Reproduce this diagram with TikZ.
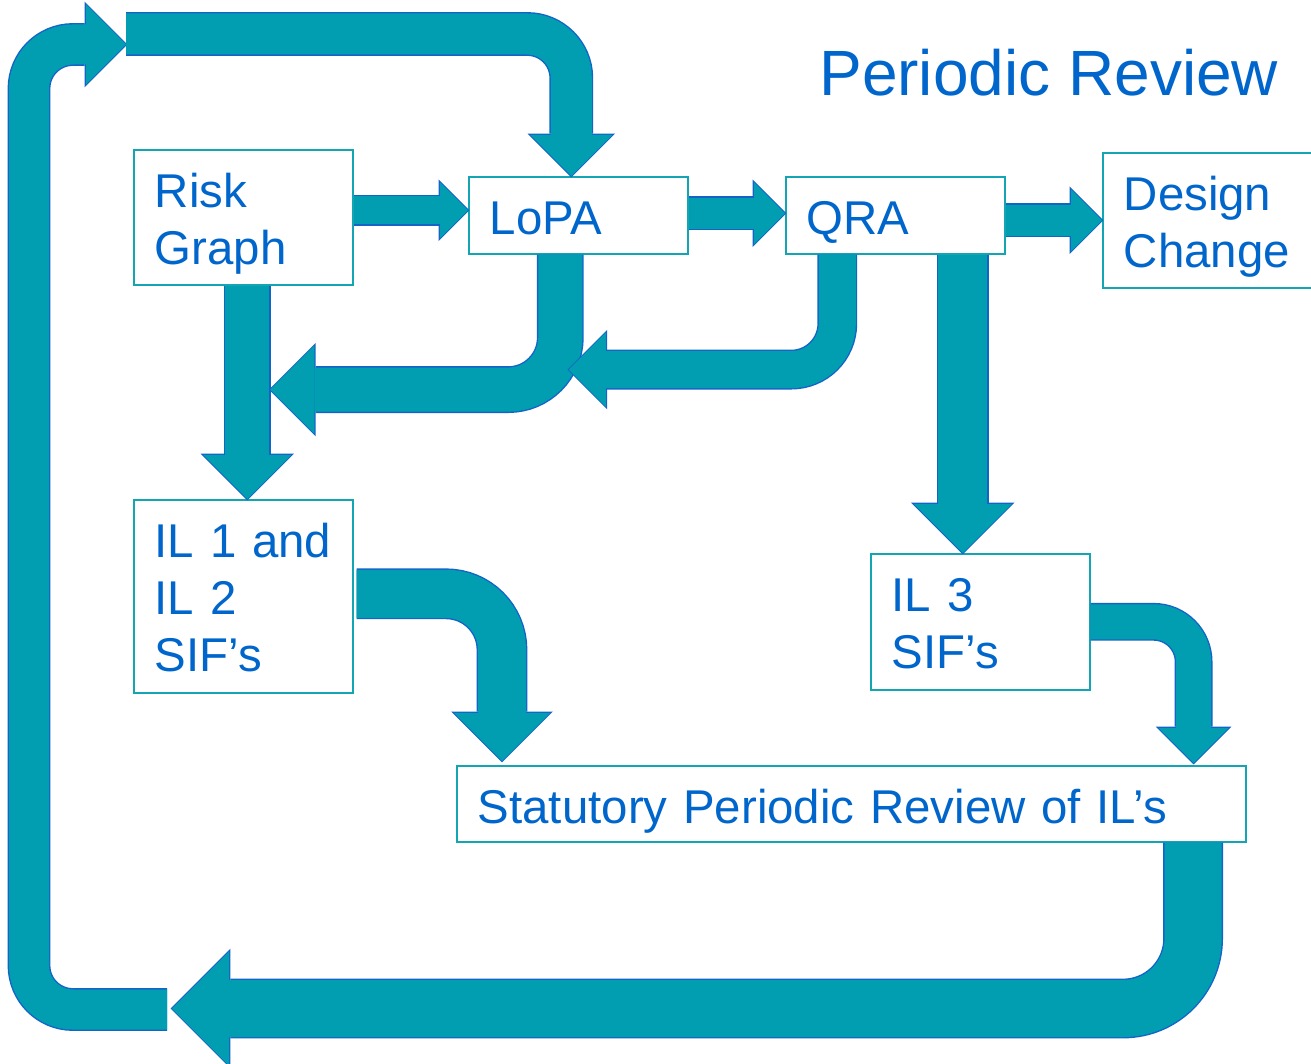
\documentclass[tikz,border=0pt]{standalone}
\usepackage{fontspec}
\setmainfont{Liberation Sans}
\usetikzlibrary{arrows.meta,calc}
\definecolor{ink}{RGB}{0,102,204}
\definecolor{flow}{RGB}{0,158,176}
\definecolor{rim}{RGB}{20,100,200}
\definecolor{boxline}{RGB}{20,165,180}

\begin{document}
\begin{tikzpicture}[x=0.5pt,y=-0.5pt,
  box/.style={draw=boxline,line width=0.8pt,fill=white,anchor=north west,align=left,text=ink,
    inner xsep=10.5pt,inner ysep=0pt,text height=28.75pt,font=\fontsize{23.7}{28.5}\selectfont},
  fat/.style={draw=flow,line width=#1,-{Triangle[length=0pt 1 0,width=0pt 2 0,line width=0pt 0 0]},
    preaction={draw=rim,line width=#1+1.4pt,shorten >=-0.7pt}}]
\useasboundingbox (0,0) rectangle (1311,1064);
\node[box,minimum width=109.5pt,text depth=38.75pt,text width=88.5pt] (risk) at (133,149) {Risk\\Graph};
\node[box,minimum width=109.5pt,text depth=9.75pt,text width=88.5pt] (lopa) at (468,176) {LoPA};
\node[box,minimum width=109.5pt,text depth=9.75pt,text width=88.5pt] (qra) at (785,176) {QRA};
\node[box,minimum width=115pt,text depth=38.75pt,text width=94pt] (design) at (1102,152) {Design\\Change};
\node[box,minimum width=109.5pt,text depth=67.75pt,text width=88.5pt] (il12) at (133,499) {IL 1 and\\IL 2\\SIF’s};
\node[box,minimum width=109.5pt,text depth=39.25pt,text width=88.5pt] (il3) at (870,553) {IL 3\\SIF’s};
\node[box,minimum width=394.5pt,text depth=9.25pt,text width=373.5pt] (stat) at (456,765) {Statutory Periodic Review of IL’s};
\node[text=ink,font=\fontsize{32}{38}\selectfont,anchor=base west,inner sep=0pt] (title) at (819,96) {Periodic Review};
\coordinate (backtip) at (172,1008.5);
\coordinate (looptail) at (167,1009.5);
\coordinate (looptip) at (126,44.5);
\coordinate (toptail) at (126,34);
\draw[fat=14pt] ($(lopa.west -| risk.east)+(0,-5)$) -- ($(lopa.west)+(0,-5)$);
\draw[fat=15.5pt] ($(lopa.east)+(0,-2)$) -- ($(qra.west)+(0,-2)$);
\draw[fat=15.5pt] (qra.east |- design.west) -- (design.west);
\draw[fat=22pt] ($(risk.south)+(4,0)$) -- ($(il12.north)+(4,0)$);
\draw[fat=22pt,rounded corners=26pt] ($(lopa.south)+(-18,0)$) |- ($(risk.south)+(27,104)$);
\draw[fat=18.5pt,rounded corners=23pt] ($(qra.south)+(-58,0)$) |- ($(lopa.south)+(-9.5,115)$);
\draw[fat=24.5pt] ($(qra.south)+(67.5,0)$) -- ($(il3.north)+(-17.5,0)$);
\draw[fat=24pt,rounded corners=28pt] ($(il12.east)+(3,-2.5)$) -| ($(stat.north west)+(46,-4)$);
\draw[fat=17.5pt,rounded corners=20pt] (il3.east) -| ($(stat.north east)+(-53,-2)$);
\draw[fat=28.5pt,rounded corners=35pt] ($(stat.south east)+(-53.5,0)$) |- (backtip);
\draw[fat=20pt,rounded corners=22pt] (looptail) -- ++(-138,0) |- (looptip);
\draw[fat=20.5pt,rounded corners=22pt] (toptail) -| ($(lopa.north)+(-7,0)$);
\end{tikzpicture}
\end{document}
